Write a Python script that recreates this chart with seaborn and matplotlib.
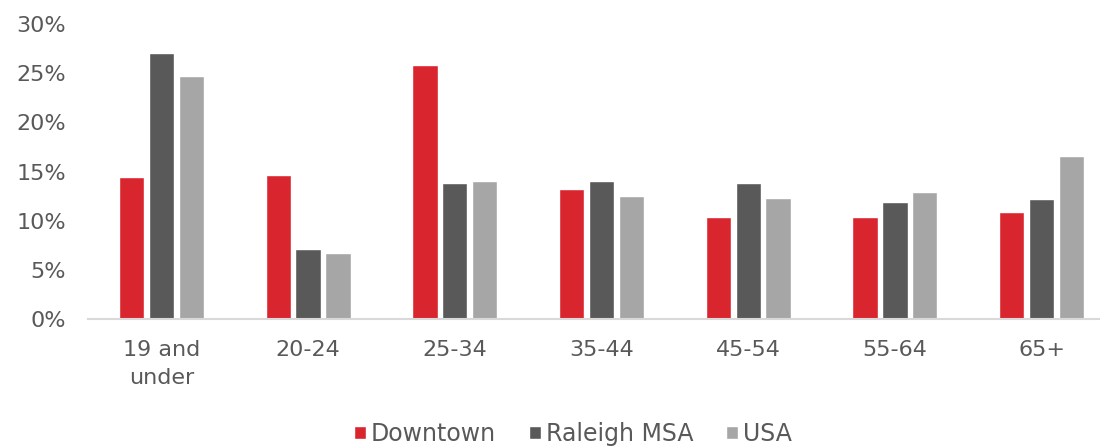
import matplotlib
matplotlib.use("Agg")
import matplotlib.pyplot as plt
import seaborn as sns
import pandas as pd
from matplotlib.ticker import PercentFormatter

categories = ["19 and\nunder", "20-24", "25-34", "35-44", "45-54", "55-64", "65+"]
downtown = [14.4, 14.6, 25.8, 13.2, 10.4, 10.4, 10.9]
raleigh_msa = [27.0, 7.1, 13.8, 14.0, 13.8, 11.9, 12.2]
usa = [24.7, 6.7, 14.0, 12.5, 12.3, 12.9, 16.6]
series_names = ["Downtown", "Raleigh MSA", "USA"]
colors = ["#D9262E", "#595959", "#A6A6A6"]

rows = []
for name, vals in zip(series_names, [downtown, raleigh_msa, usa]):
    for c, v in zip(categories, vals):
        rows.append({"Age": c, "Series": name, "Value": v})
df = pd.DataFrame(rows)

sns.set_style("white")
plt.rcParams["font.family"] = ["DejaVu Sans"]

fig = plt.figure(figsize=(11, 4.46), dpi=100)
ax = fig.add_axes([88 / 1100, 127 / 446, 1027 / 1100, 295 / 446])

sns.barplot(data=df, x="Age", y="Value", hue="Series", order=categories,
            hue_order=series_names, palette=colors, width=0.61, gap=0.15,
            saturation=1, ax=ax, legend=True)

ax.set_ylim(0, 30)
ax.set_xlim(-0.5, len(categories) - 0.5)
ax.yaxis.set_major_formatter(PercentFormatter(decimals=0))
ax.set_yticks([0, 5, 10, 15, 20, 25, 30])
ax.set_xlabel("")
ax.set_ylabel("")
for s in ["top", "right", "left"]:
    ax.spines[s].set_visible(False)
ax.spines["bottom"].set_color("#D9D9D9")
ax.spines["bottom"].set_linewidth(1.5)
ax.tick_params(axis="both", length=0, labelsize=16, labelcolor="#595959")
ax.tick_params(axis="y", pad=16)
ax.tick_params(axis="x", pad=15)
for t in ax.get_xticklabels():
    t.set_linespacing(1.5)

handles, labels = ax.get_legend_handles_labels()
ax.get_legend().remove()
fig.legend(handles, labels, loc="center", bbox_to_anchor=(573 / 1100, 1 - 434 / 446),
           ncol=3, frameon=False, fontsize=17, handlelength=0.5, handleheight=0.5,
           handletextpad=0.2, columnspacing=1.4, labelcolor="#595959")

fig.savefig("out.png", dpi=100)
